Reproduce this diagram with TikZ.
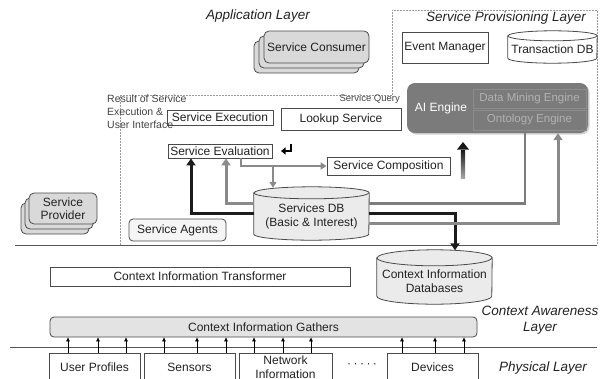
\documentclass[tikz,border=0pt]{standalone}
\usepackage{fontspec}
\setmainfont{Liberation Sans}
\usetikzlibrary{arrows.meta,shadows,calc,backgrounds}

\definecolor{ink}{HTML}{222222}
\definecolor{edgec}{HTML}{4A4A4A}
\definecolor{cDark}{HTML}{1C1C1C}
\definecolor{cGray}{HTML}{8A8A8A}
\definecolor{stackfill}{HTML}{D9D9D9}
\definecolor{dbfillc}{HTML}{EBEBEB}
\definecolor{aifill}{HTML}{7B7B7B}
\definecolor{regionc}{HTML}{9A9A9A}
\definecolor{layerc}{HTML}{555555}

% vertical cylinder drawn round a node: #1 node, #2 half width, #3 cap half height, #4 fill
\newcommand\drawdb[4]{%
  \draw[draw=edgec,line width=0.8pt,fill=#4]
    (#1.north west) -- ($(#1.south west)+(0,#3)$)
    arc[start angle=180,end angle=360,x radius=#2,y radius=#3]
    -- (#1.north east)
    arc[start angle=0,end angle=180,x radius=#2,y radius=#3] -- cycle;
  \draw[draw=edgec,line width=0.8pt]
    (#1.north west) arc[start angle=180,end angle=360,x radius=#2,y radius=#3];
}

\tikzset{
  lbl/.style={font=\fontsize{12}{13.5}\selectfont, text=ink},
  box/.style={lbl, draw=edgec, line width=0.8pt, fill=white, inner sep=1pt, align=center},
  stackA/.style={box, rounded corners=5pt, fill=stackfill,
    general shadow={shadow xshift=-10pt, shadow yshift=-10pt, fill=stackfill, draw=edgec, line width=0.8pt},
    general shadow={shadow xshift=-5pt, shadow yshift=-5pt, fill=stackfill, draw=edgec, line width=0.8pt}},
  stackB/.style={box, rounded corners=5pt, fill=stackfill,
    general shadow={shadow xshift=-8pt, shadow yshift=-10pt, fill=stackfill, draw=edgec, line width=0.8pt},
    general shadow={shadow xshift=-4pt, shadow yshift=-5pt, fill=stackfill, draw=edgec, line width=0.8pt}},
  agentbox/.style={box, rounded corners=4pt, fill=black!4},
  gatherbox/.style={box, rounded corners=4pt, fill=black!11},
  dbnode/.style={lbl, inner sep=1pt, align=center},
  aibox/.style={rounded corners=8pt, fill=aifill, draw=none,
    drop shadow={shadow xshift=1.5pt, shadow yshift=-1.5pt, opacity=0.35}},
  aitext/.style={font=\fontsize{12}{13.5}\selectfont, text=white},
  innerbox/.style={font=\fontsize{11.5}{13}\selectfont, text=black!30, draw=black!45,
    line width=0.7pt, inner sep=1pt},
  layerlbl/.style={font=\fontsize{13.5}{16}\selectfont\itshape, text=ink, align=center},
  smalllbl/.style={font=\fontsize{9.5}{11.5}\selectfont, text=ink!85, inner sep=1pt},
  notelbl/.style={font=\fontsize{10.5}{13}\selectfont, text=ink!85, inner sep=1pt},
  regionline/.style={draw=regionc, line width=0.6pt, dash pattern=on 2pt off 1pt},
  layerline/.style={draw=layerc, line width=1pt},
  darkflow/.style={draw=cDark, line width=3pt, -{Triangle[width=9pt,length=7pt]}},
  grayflow/.style={draw=cGray, line width=3pt, -{Triangle[width=9pt,length=7pt]}},
  grayline/.style={draw=cGray!90!black, line width=2.6pt},
  thinflow/.style={draw=cGray, line width=1.8pt, -{Triangle[width=7pt,length=6pt]}},
  tinyflow/.style={draw=black, line width=0.7pt, -{Triangle[width=3.5pt,length=4pt]}},
}

\begin{document}
\begin{tikzpicture}[x=1pt,y=1pt]
\useasboundingbox (0,0) rectangle (612,-378);
\clip (0,0) rectangle (612,-378);

% ---------- layer titles ----------
\node[layerlbl] (appl) at (258,-16) {Application Layer};
\node[layerlbl] (provl) at (506,-18) {Service Provisioning Layer};
\node[layerlbl] (ctxl) at (540,-320.5) {Context Awareness\\Layer};
\node[layerlbl] (phyl) at (543,-368) {Physical Layer};

% ---------- application / provisioning ----------
\node[stackA, minimum width=105pt, minimum height=32pt] (scons) at (316.5,-47) {Service Consumer};
\node[box, minimum width=86pt, minimum height=31pt] (evt) at (445,-47.5) {Event Manager};
\node[dbnode, minimum width=89pt, minimum height=27pt] (tdb) at (552.5,-49.5) {Transaction DB};

\node[aibox, minimum width=181pt, minimum height=50pt] (ai) at (497.5,-108) {};
\node[aitext] (ailbl) at (441,-108) {AI Engine};
\node[innerbox, minimum width=113pt, minimum height=19pt] (dme) at (529.5,-98.5) {Data Mining Engine};
\node[innerbox, minimum width=113pt, minimum height=20pt] (onto) at (529.5,-120) {Ontology Engine};

\node[smalllbl, anchor=east] (sq) at (401,-99) {Service Query};

\node[box, minimum width=120pt, minimum height=22pt] (look) at (341,-119) {Lookup Service};
\node[box, minimum width=106pt, minimum height=15pt] (sexec) at (220,-117.5) {Service Execution};
\node[box, minimum width=104pt, minimum height=14pt] (seval) at (220,-151) {Service Evaluation};
\node[box, minimum width=123pt, minimum height=18pt] (scomp) at (388.5,-166) {Service Composition};
\node[notelbl, anchor=north west, align=left] (res) at (106,-93.5) {Result of Service\\Execution \&\\User Interface};

\node[dbnode, minimum width=115pt, minimum height=47pt] (sdb) at (311.5,-216.5) {Services DB\\(Basic \& Interest)};
\node[agentbox, minimum width=97pt, minimum height=22pt] (sag) at (177.5,-230) {Service Agents};
\node[stackB, minimum width=68pt, minimum height=31pt] (sprov) at (63,-208.5) {Service\\Provider};

% ---------- context awareness ----------
\node[box, minimum width=300pt, minimum height=19pt] (cit) at (200,-276.5) {Context Information Transformer};
\node[dbnode, minimum width=115pt, minimum height=46pt] (cid) at (434.5,-281) {Context Information\\Databases};
\node[gatherbox, minimum width=427pt, minimum height=20pt] (gath) at (263.5,-327) {Context Information Gathers};

% ---------- physical ----------
\node[box, minimum width=91pt, minimum height=28pt] (uprof) at (94.5,-367) {User Profiles};
\node[box, minimum width=91pt, minimum height=28pt] (sens) at (189.5,-367) {Sensors};
\node[box, minimum width=93pt, minimum height=28pt] (net) at (285.5,-367) {Network\\Information};
\node[lbl] (more) at (362,-366) {·\kern2.5pt·\kern2.5pt·\kern2.5pt·\kern2.5pt·};
\node[box, minimum width=91pt, minimum height=28pt] (dev) at (432.5,-367) {Devices};

% ---------- region outlines and cylinders ----------
\begin{pgfonlayer}{background}
  \draw[regionline] (392,-95) -- (392,-10) -- (597,-10) -- (597,-245);
  \draw[regionline] (392,-95) -- (120,-95) -- (120,-245);
  \draw[layerline, line width=0.9pt] (15,-245) -- (597,-245);
  \draw[layerline] (10,-347) -- (597,-347);
  \drawdb{tdb}{44.5}{5}{white}
  \drawdb{sdb}{57.5}{6}{dbfillc}
  \drawdb{cid}{57.5}{8}{dbfillc}
\end{pgfonlayer}

% ---------- connector anchors ----------
\coordinate (sdbtop) at ($(sdb.north)+(0,5)$);
\coordinate (cidtop) at ($(cid.north)+(0,7.5)$);
\coordinate (xDarkL) at (191,0);
\coordinate (xGrayL) at (226,0);
\coordinate (xEval) at (241,0);
\coordinate (xDarkR) at (455,0);
\coordinate (xAiOut) at (525,0);
\coordinate (xAiIn) at (558,0);
\coordinate (yUp) at (0,-203.5);
\coordinate (yMid) at (0,-213);
\coordinate (yLow) at (0,-223);
\coordinate (fork) at (273,-166);

% ---------- connectors ----------
\draw[thinflow] (seval.south -| xEval) |- (scomp.west);
\draw[thinflow] (fork) -- (sdbtop -| fork);
\draw[grayflow] (sdb.west |- yUp) -| (seval.south -| xGrayL);
\draw[darkflow] (sdb.west |- yMid) -| (seval.south -| xDarkL);
\draw[grayline] (ai.south -| xAiOut) |- (sdb.east |- yUp);
\draw[darkflow] (sdb.east |- yMid) -| (cidtop -| xDarkR);
\draw[grayflow] (sdb.east |- yLow) -| (ai.south -| xAiIn);

% query arrow beside Service Composition
\coordinate (upA) at (463,-178);
\coordinate (upB) at (463,-150);
\shade[top color=black!90, bottom color=black!35] ($(upA)+(-2.2,0)$) rectangle ($(upB)+(2.2,0)$);
\fill[black!90] ($(upB)+(-6,0.5)$) -- ($(upB)+(0,8)$) -- ($(upB)+(6,0.5)$) -- cycle;

% return mark beside Service Evaluation
\coordinate (retA) at (291,-143.5);
\coordinate (retB) at (291,-151);
\coordinate (retC) at (281,-151);
\draw[line width=2.6pt, black, -{Triangle[width=7pt,length=4.5pt]}] (retA) -- (retB) -- (retC);

% gatherer inputs
\foreach \b/\x in {uprof/68, uprof/98, uprof/126, sens/164, sens/197, sens/226,
                   net/254, net/283, net/311, dev/402, dev/435, dev/464}
  \draw[tinyflow] (\b.north -| \x,0) -- (gath.south -| \x,0);
\end{tikzpicture}
\end{document}
